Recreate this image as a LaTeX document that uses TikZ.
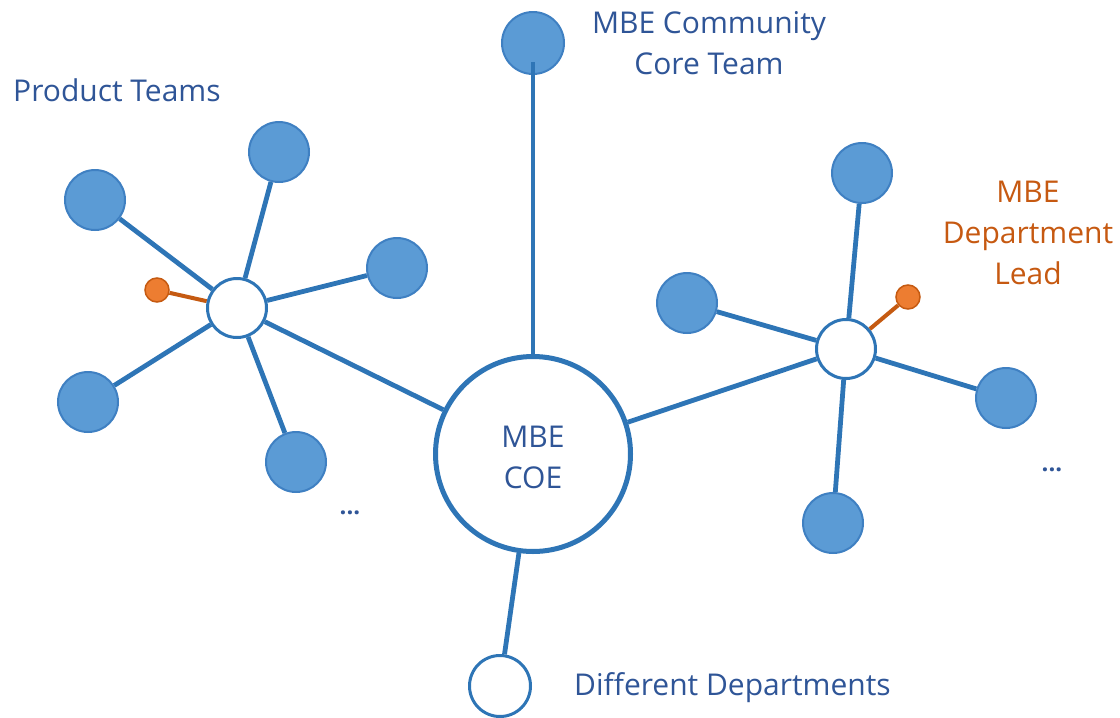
\documentclass[tikz,border=0pt]{standalone}
\usepackage{fontspec}
\setmainfont{Open Sans}
\usetikzlibrary{backgrounds}
\definecolor{lineblue}{HTML}{2E75B6}
\definecolor{fillblue}{HTML}{5B9BD5}
\definecolor{edgeblue}{HTML}{3F80C2}
\definecolor{txtblue}{HTML}{2F5597}
\definecolor{orangefill}{HTML}{ED7D31}
\definecolor{orangeedge}{HTML}{C55A11}
\definecolor{orangetxt}{HTML}{C65911}
\begin{document}
\begin{tikzpicture}[x=1pt,y=-1pt,
  sat/.style={circle, fill=fillblue, draw=edgeblue, line width=2pt, minimum size=60pt, inner sep=0pt},
  hub/.style={circle, fill=white, draw=lineblue, line width=3pt, minimum size=59pt, inner sep=0pt},
  coestyle/.style={circle, fill=white, draw=lineblue, line width=5pt, minimum size=195pt, inner sep=0pt},
  lead/.style={circle, fill=orangefill, draw=orangeedge, line width=1.5pt, minimum size=24pt, inner sep=0pt},
  conn/.style={draw=lineblue, line width=4.8pt},
  oconn/.style={draw=orangeedge, line width=4pt},
  lbl/.style={font=\fontsize{30}{41}\selectfont, text=txtblue, align=center, inner sep=0pt},
  olbl/.style={lbl, text=orangetxt},
  dots/.style={font=\fontsize{24}{26}\selectfont\bfseries, text=txtblue, inner sep=0pt, anchor=base}
]
\useasboundingbox (0,0) rectangle (1120,718);

% central
\node[coestyle] (coe) at (533,454) {};
\node[lbl] (coetxt) at (533,457) {MBE\\COE};

% top
\node[sat, minimum size=62pt] (top) at (533,43) {};
\node[lbl] (toptxt) at (709,43) {MBE Community\\Core Team};

% left cluster
\node[hub] (lhub) at (237,308) {};
\node[sat] (l1) at (279,152) {};
\node[sat] (l2) at (95,200) {};
\node[sat] (l3) at (397,268) {};
\node[sat] (l4) at (88,402) {};
\node[sat] (l5) at (296,462) {};
\node[lead] (llead) at (157,290) {};
\node[lbl, anchor=west] (pt) at (13,90) {Product Teams};
\node[dots] (ldots) at (350,514) {...};

% right cluster
\node[hub] (rhub) at (846,349) {};
\node[sat] (r1) at (862,173) {};
\node[sat] (r2) at (687,303) {};
\node[sat] (r3) at (1006,398) {};
\node[sat] (r4) at (833,523) {};
\node[lead] (rlead) at (908,297) {};
\node[olbl] (rtxt) at (1028,233) {MBE\\Department\\Lead};
\node[dots] (rdots) at (1052,471) {...};

% bottom
\node[hub, minimum size=61pt] (bot) at (500,686) {};
\node[lbl, anchor=west] (bottxt) at (574,688) {Different Departments};

\begin{scope}[on background layer]
  \draw[conn] (lhub) -- (l1);
  \draw[conn] (lhub) -- (l2);
  \draw[conn] (lhub) -- (l3);
  \draw[conn] (lhub) -- (l4);
  \draw[conn] (lhub) -- (l5);
  \draw[conn] (lhub) -- (coe);
  \draw[oconn] (lhub) -- (llead);
  \draw[conn] (rhub) -- (r1);
  \draw[conn] (rhub) -- (r2);
  \draw[conn] (rhub) -- (r3);
  \draw[conn] (rhub) -- (r4);
  \draw[conn] (rhub) -- (coe);
  \draw[oconn] (rhub) -- (rlead);
  \draw[conn] (bot) -- (coe);
\end{scope}
\draw[conn, shorten <=19pt] (top.center) -- (coe);
\end{tikzpicture}
\end{document}
